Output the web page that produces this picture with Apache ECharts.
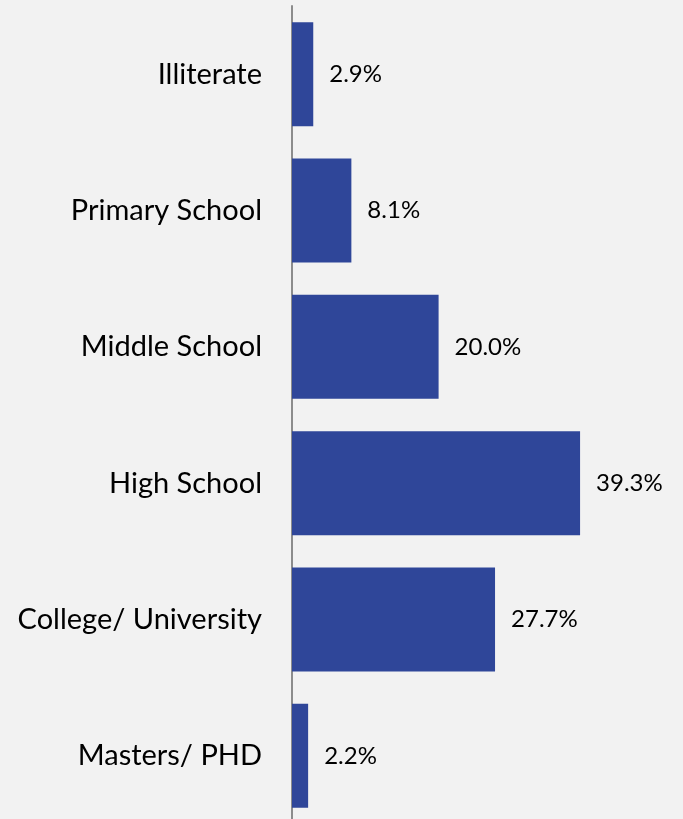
<!DOCTYPE html>
<html><head><meta charset="utf-8">
<script src="https://cdn.jsdelivr.net/npm/echarts@6/dist/echarts.min.js"></script>
<style>html,body{margin:0;padding:0;background:#f2f2f2;overflow:hidden;height:819px;}#c{width:683px;height:826px;}</style>
</head><body><div id="c"></div>
<script>
var categories = ["Illiterate", "Primary School", "Middle School", "High School", "College/ University", "Masters/ PHD"];
var values = [2.9, 8.1, 20.0, 39.3, 27.7, 2.2];

var chart = echarts.init(document.getElementById('c'));
chart.setOption({
  backgroundColor: '#f2f2f2',
  animation: false,
  grid: {left: 292, top: 6, width: 366.5, height: 818, containLabel: false},
  xAxis: {type: 'value', min: 0, max: 50, show: false},
  yAxis: {
    type: 'category', data: categories, inverse: true,
    axisLine: {show: true, lineStyle: {color: '#8c8c8c', width: 2}},
    axisTick: {show: false},
    axisLabel: {margin: 30, fontFamily: 'Lato', fontSize: 29, color: '#000'}
  },
  series: [{
    type: 'bar', data: values, barWidth: 104,
    itemStyle: {color: '#2f4699'},
    label: {show: true, position: 'right', distance: 16, fontFamily: 'Lato', fontSize: 24, color: '#000',
      formatter: function(p){ return p.value.toFixed(1) + '%'; }}
  }]
});
</script></body></html>
